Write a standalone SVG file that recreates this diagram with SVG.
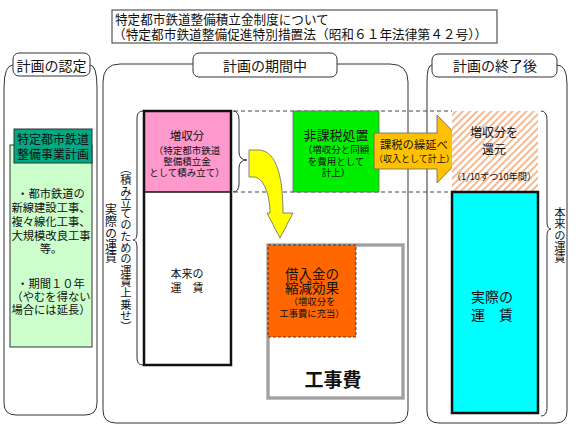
<svg xmlns="http://www.w3.org/2000/svg" width="576" height="432" viewBox="0 0 576 432">
<style>
.t{font-family:"Noto Sans CJK JP","Noto Sans",sans-serif;fill:#111;}
.m{text-anchor:middle;}
.ln{fill:none;stroke:#333;stroke-width:1;}
.lab{fill:#fff;stroke:#333;stroke-width:1;}
.v{writing-mode:vertical-rl;}
.dash{stroke:#444;stroke-width:1;stroke-dasharray:4,3;fill:none;}
</style>
<defs>
<pattern id="hatch" patternUnits="userSpaceOnUse" width="5" height="5" patternTransform="rotate(45)">
<rect width="5" height="5" fill="#fff"/>
<line x1="1" y1="0" x2="1" y2="5" stroke="#f4b183" stroke-width="1.8"/>
</pattern>
</defs>
<rect width="576" height="432" fill="#fff"/>

<g id="title">
<rect x="112" y="10" width="385" height="33" fill="#fff" stroke="#555" stroke-width="1.2"/>
<text class="t" x="115" y="24" font-size="12.6">特定都市鉄道整備積立金制度について</text>
<text class="t" x="113" y="38.5" font-size="12.7">（特定都市鉄道整備促進特別措置法（昭和６１年法律第４２号））</text>
</g>

<g id="panel-left">
<path class="ln" d="M13,65 Q4,65 4,88 L4,403 Q4,415 16,415 L85,415 Q97,415 97,403 L97,88 Q97,65 90,65"/>
<rect class="lab" x="13" y="53" width="77" height="23" rx="6"/>
<text class="t m" x="51.5" y="71" font-size="14">計画の認定</text>
</g>

<g id="plan">
<rect x="10" y="145" width="82" height="202" fill="#ccffcc" stroke="#333" stroke-width="1"/>
<rect x="14" y="129" width="78" height="34" fill="#00a884" stroke="#333" stroke-width="1"/>
<text class="t m" x="53" y="144" font-size="12">特定都市鉄道</text>
<text class="t m" x="53" y="159" font-size="12">整備事業計画</text>
<text class="t m" x="51" y="198" font-size="11.3">・都市鉄道の</text>
<text class="t m" x="51" y="212" font-size="11.3">新線建設工事、</text>
<text class="t m" x="51" y="226" font-size="11.3">複々線化工事、</text>
<text class="t m" x="51" y="240" font-size="11.3">大規模改良工事</text>
<text class="t m" x="51" y="253" font-size="11.3">等。</text>
<text class="t m" x="51" y="288" font-size="11.3">・期間１０年</text>
<text class="t m" x="51" y="301" font-size="11.3">（やむを得ない</text>
<text class="t m" x="51" y="314" font-size="11.3">場合には延長）</text>
</g>

<g id="panel-middle">
<path class="ln" d="M193,64 L120,64 Q103,64 103,82 L103,410 Q103,423 116,423 L395,423 Q408,423 408,410 L408,82 Q408,64 390,64 L337,64"/>
<rect class="lab" x="193" y="53" width="144" height="24" rx="6"/>
<text class="t m" x="265" y="71" font-size="14">計画の期間中</text>
</g>

<g id="panel-right">
<path class="ln" d="M432,65 Q427,65 427,82 L427,411 Q427,423 439,423 L556,423 Q567,423 567,411 L567,84 Q567,65 557,65"/>
<rect class="lab" x="432" y="54" width="125" height="23" rx="6"/>
<text class="t m" x="495" y="71" font-size="14">計画の終了後</text>
</g>

<g id="connectors">
<line class="dash" x1="234" y1="111" x2="452" y2="111"/>
<line class="dash" x1="234" y1="192" x2="452" y2="192"/>
<path class="ln" d="M233,111 Q239,111 239,120 L239,152 Q239,160 247,160 Q239,160 239,168 L239,184 Q239,192 233,192"/>
<path class="ln" d="M143,111 Q137,111 137,118 L137,233 Q137,240 133,240 Q137,240 137,247 L137,358 Q137,365 143,365"/>
<path class="ln" d="M541,111 Q547,111 547,120 L547,222 Q547,229 551,229 Q547,229 547,236 L547,408 Q547,416 541,416"/>
<path d="M249,150 L258,150 C274,150 283,170 283,213 L293,213 L280,238 L267,213 L270,213 C270,192 262,177 254,177 L249,177 Z" fill="#ffff00" stroke="#666" stroke-width="0.8"/>
</g>

<g id="surcharge-label">
<text class="t v" x="126" y="163" font-size="11.3">（積み立てのための運賃上乗せ）</text>
<text class="t v" x="111" y="203" font-size="12">実際の運賃</text>
</g>

<g id="fare-column">
<rect x="144" y="111" width="87" height="81" fill="#ff99cc"/>
<rect x="144" y="192" width="87" height="173" fill="#fff"/>
<line x1="144" y1="192" x2="231" y2="192" stroke="#111" stroke-width="1.5"/>
<rect x="144" y="111" width="87" height="254" fill="none" stroke="#111" stroke-width="2.5"/>
<text class="t m" x="187" y="140" font-size="11.5">増収分</text>
<text class="t m" x="187" y="154" font-size="9.5">（特定都市鉄道</text>
<text class="t m" x="187" y="165" font-size="9.5">整備積立金</text>
<text class="t m" x="187" y="176" font-size="9.5">として積み立て）</text>
<text class="t m" x="187" y="278" font-size="11">本来の</text>
<text class="t m" x="187" y="292" font-size="11">運　賃</text>
</g>

<g id="tax-exempt">
<rect x="293" y="111" width="86" height="81" fill="#00ee00" stroke="#666" stroke-width="0.8"/>
<text class="t m" x="336" y="140" font-size="13">非課税処置</text>
<text class="t m" x="336" y="153" font-size="9.5">（増収分と同額</text>
<text class="t m" x="336" y="165" font-size="9.5">を費用として</text>
<text class="t m" x="336" y="176" font-size="9.5">計上）</text>
</g>

<g id="deferral">
<path d="M374,133 L437,133 L437,115 L470,149 L437,183 L437,169 L374,169 Z" fill="#ffc000" stroke="#666" stroke-width="0.8"/>
<text class="t" x="380" y="149" font-size="11.3">課税の繰延べ</text>
<text class="t" x="374" y="162" font-size="9">（収入として計上）</text>
</g>

<g id="refund">
<rect x="452" y="111" width="86" height="81" fill="url(#hatch)"/>
<text class="t m" x="494" y="137" font-size="12">増収分を</text>
<text class="t m" x="494" y="154" font-size="12">還元</text>
<text class="t m" x="494" y="180" font-size="9.2">（1/10ずつ10年間）</text>
</g>

<g id="actual-fare">
<rect x="452" y="192" width="86" height="221" fill="#00ffff" stroke="#111" stroke-width="2.5"/>
<text class="t m" x="492" y="302" font-size="14">実際の</text>
<text class="t m" x="492" y="320" font-size="14">運　賃</text>
</g>

<g id="base-fare-label">
<text class="t v" x="560" y="207" font-size="11.3">本来の運賃</text>
</g>

<g id="construction">
<rect x="268" y="245" width="135" height="153" fill="#fff" stroke="#808080" stroke-width="3"/>
<rect x="268" y="245" width="135" height="153" fill="none" stroke="#d0d0d0" stroke-width="0.8"/>
<text class="t m" x="333" y="387" font-size="19" font-weight="bold">工事費</text>
</g>

<g id="loan-reduction">
<rect x="268" y="245" width="88" height="92" fill="#ff6600" stroke="#333" stroke-width="0.9" stroke-dasharray="3,2"/>
<text class="t m" x="312" y="279" font-size="13.5">借入金の</text>
<text class="t m" x="312" y="293" font-size="13.5">縮減効果</text>
<text class="t m" x="312" y="305" font-size="9.3">（増収分を</text>
<text class="t m" x="312" y="317" font-size="9.3">工事費に充当）</text>
</g>
</svg>
